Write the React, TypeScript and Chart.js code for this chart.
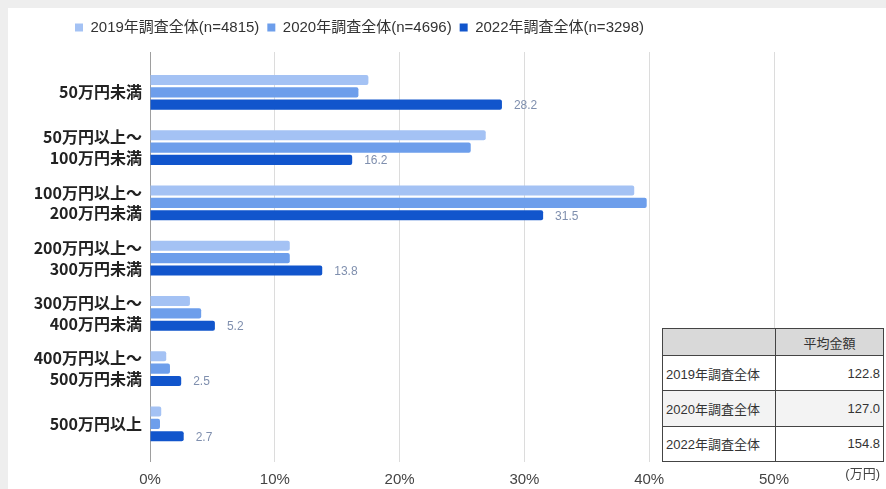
import React, { useEffect, useRef } from "react";
import { Chart, registerables } from "chart.js";

Chart.register(...registerables);

const categories: string[][] = [
  ["50万円未満"],
  ["50万円以上～", "100万円未満"],
  ["100万円以上～", "200万円未満"],
  ["200万円以上～", "300万円未満"],
  ["300万円以上～", "400万円未満"],
  ["400万円以上～", "500万円未満"],
  ["500万円以上"],
];

const seriesNames = ["2019年調査全体(n=4815)", "2020年調査全体(n=4696)", "2022年調査全体(n=3298)"];
const values2019 = [17.5, 26.9, 38.8, 11.2, 3.2, 1.3, 0.9];
const values2020 = [16.7, 25.7, 39.8, 11.2, 4.1, 1.6, 0.8];
const values2022 = [28.2, 16.2, 31.5, 13.8, 5.2, 2.5, 2.7];
const seriesColors = ["#a4c2f4", "#6d9eeb", "#1155cc"];

const xTicks = [0, 10, 20, 30, 40, 50];

const tableHeader = "平均金額";
const tableRows = ["2019年調査全体", "2020年調査全体", "2022年調査全体"];
const tableValues = ["122.8", "127.0", "154.8"];
const tableUnit = "(万円)";

const LATIN = "'Liberation Sans', 'Noto Sans CJK JP', sans-serif";
const W = 878;
const H = 481;

const valueLabelPlugin = {
  id: "valueLabels",
  afterDatasetsDraw(chart: any) {
    const ctx = chart.ctx;
    const meta = chart.getDatasetMeta(2);
    ctx.save();
    ctx.font = `12px ${LATIN}`;
    ctx.fillStyle = "#7f8fae";
    ctx.textAlign = "left";
    ctx.textBaseline = "middle";
    meta.data.forEach((bar: any, i: number) => {
      ctx.fillText(values2022[i].toFixed(1), bar.x + 12, bar.y + 1);
    });
    ctx.restore();
  },
};

const legendSpacing = {
  id: "legendSpacing",
  beforeInit(chart: any) {
    if (!chart.legend) return;
    const orig = chart.legend.fit;
    chart.legend.fit = function () {
      orig.call(this);
      this.height += 7;
    };
  },
  afterLayout(chart: any) {
    if (chart.legend) chart.legend.left = 59;
  },
};

export default function App() {
  const ref = useRef<HTMLCanvasElement>(null);

  useEffect(() => {
    const makeData = (vals: number[]) => vals.map((v, i) => ({ x: v, y: i }));
    const chart = new Chart(ref.current as HTMLCanvasElement, {
      type: "bar",
      data: {
        datasets: [values2019, values2020, values2022].map((vals, i) => ({
          label: seriesNames[i],
          data: makeData(vals),
          backgroundColor: seriesColors[i],
          borderWidth: 0,
          borderRadius: 2,
          categoryPercentage: 0.67,
          barPercentage: 0.82,
        })),
      },
      options: {
        indexAxis: "y",
        animation: false,
        responsive: false,
        layout: { padding: { left: 0, right: 112, top: 4, bottom: 2 } },
        plugins: {
          legend: {
            position: "top",
            align: "start",
            labels: {
              boxWidth: 8,
              boxHeight: 8,
              padding: 8,
              color: "#333",
              font: { family: LATIN, size: 15 },
            },
          },
          tooltip: { enabled: false },
        },
        scales: {
          x: {
            type: "linear",
            min: 0,
            max: 50,
            afterBuildTicks: (scale: any) => {
              scale.ticks = xTicks.map((v) => ({ value: v }));
            },
            afterFit: (scale: any) => {
              scale.height = 25;
            },
            ticks: {
              padding: 9,
              color: "#444",
              font: { family: LATIN, size: 15 },
              callback: (v: any) => `${v}%`,
            },
            grid: {
              drawTicks: false,
              tickLength: 0,
              color: (c: any) => (c.tick && c.tick.value === 0 ? "#9e9e9e" : "#dcdcdc"),
              lineWidth: 1,
            },
            border: { display: false },
          },
          y: {
            type: "linear",
            reverse: true,
            offset: false,
            min: -0.73,
            max: 6.69,
            afterBuildTicks: (scale: any) => {
              scale.ticks = categories.map((_, i) => ({ value: i }));
            },
            afterFit: (scale: any) => {
              scale.width = 142;
            },
            ticks: {
              autoSkip: false,
              padding: 8,
              color: "#222",
              font: { family: "'Noto Sans CJK JP', sans-serif", size: 16, weight: "bold", lineHeight: 1.3 },
              callback: (v: any) => categories[v] ?? "",
            },
            grid: { display: false, offset: false, drawTicks: false, tickLength: 0 },
            border: { display: false },
          },
        },
      },
      plugins: [valueLabelPlugin, legendSpacing],
    } as any);
    return () => chart.destroy();
  }, []);

  const cell: React.CSSProperties = {
    border: "1px solid #444",
    padding: "0 3px",
    fontSize: 13,
    color: "#333",
    fontFamily: LATIN,
  };

  return (
    <div style={{ position: "fixed", inset: 0, background: "#eeeeee" }}>
      <div
        style={{
          position: "absolute",
          left: 8,
          top: 8,
          width: W,
          height: H,
          background: "#ffffff",
        }}
      >
        <canvas ref={ref} width={W} height={H} style={{ display: "block", width: W, height: H }} />
        <table
          style={{
            position: "absolute",
            left: 654,
            top: 320,
            width: 222,
            height: 134,
            borderCollapse: "collapse",
            background: "#fff",
          }}
        >
          <tbody>
            <tr style={{ height: 27, background: "#d9d9d9" }}>
              <td style={{ ...cell, width: 106 }}></td>
              <td style={{ ...cell, textAlign: "center" }}>{tableHeader}</td>
            </tr>
            {tableRows.map((r, i) => (
              <tr key={r} style={{ height: 35, background: i === 1 ? "#f3f3f3" : "#fff" }}>
                <td style={{ ...cell, textAlign: "left" }}>{r}</td>
                <td style={{ ...cell, textAlign: "right" }}>{tableValues[i]}</td>
              </tr>
            ))}
          </tbody>
        </table>
        <div
          style={{
            position: "absolute",
            right: 6,
            top: 455,
            fontSize: 13,
            color: "#444",
            fontFamily: LATIN,
          }}
        >
          {tableUnit}
        </div>
      </div>
    </div>
  );
}
